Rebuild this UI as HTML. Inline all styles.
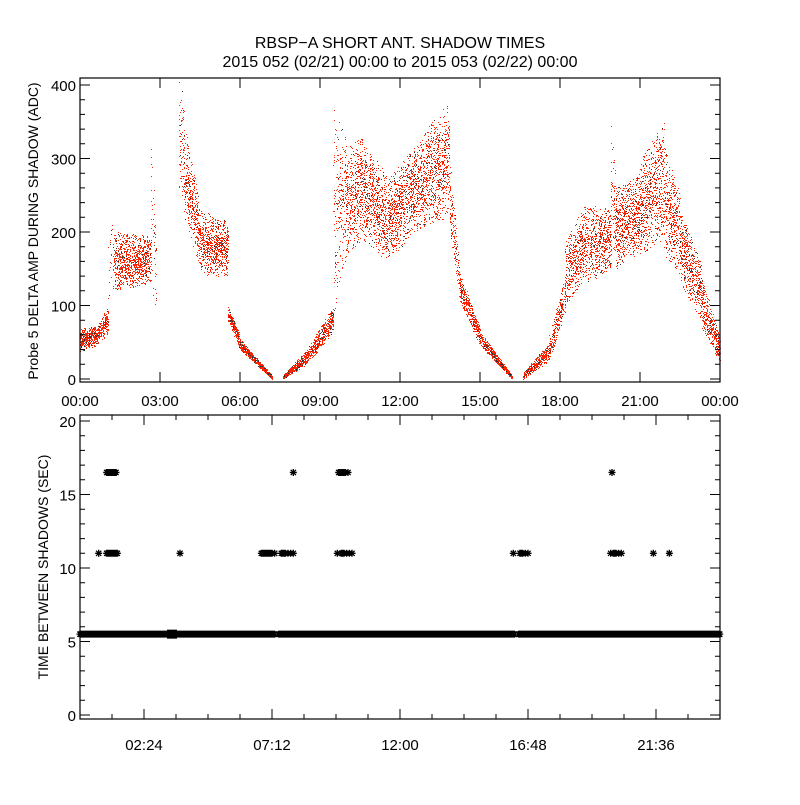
<!DOCTYPE html>
<html><head><meta charset="utf-8">
<style>
body{margin:0;background:#fff;width:800px;height:800px;overflow:hidden}
svg text{font-family:"Liberation Sans",sans-serif;fill:#000}
</style></head><body>
<svg id="c" width="800" height="800" viewBox="0 0 800 800">
<rect x="0" y="0" width="800" height="800" fill="#fff"/>
<text x="400" y="48" text-anchor="middle" font-size="16">RBSP−A SHORT ANT. SHADOW TIMES</text>
<text x="400" y="67" text-anchor="middle" font-size="16">2015 052 (02/21) 00:00 to 2015 053 (02/22) 00:00</text>
<text transform="translate(38,231) rotate(-90)" text-anchor="middle" font-size="14">Probe 5 DELTA AMP DURING SHADOW (ADC)</text>
<text transform="translate(48,567) rotate(-90)" text-anchor="middle" font-size="14">TIME BETWEEN SHADOWS (SEC)</text>
<g id="topPanel"></g>
<g id="botPanel"></g>
</svg>
<script>
// ---- top panel data: envelope segments (hours, ADC) ----
const segStart=[0,0.6,1.05,1.3,2.65,3.7,3.9,4.5,5.55,6.0,7.6,8.5,9.5,10.0,10.6,11.5,12.2,13.0,13.85,14.2,15.0,16.6,17.6,18.2,19.0,19.9,20.1,21.0,21.9,22.5,23.3];
const segEnd  =[0.6,1.05,1.3,2.65,2.85,3.9,4.5,5.55,6.0,7.2,8.5,9.5,10.0,10.6,11.5,12.2,13.0,13.85,14.2,15.0,16.2,17.6,18.2,19.0,19.9,20.1,21.0,21.9,22.5,23.3,24.0];
const segLoA  =[38,45,100,120,95,250,220,140,80,40,0,20,80,170,190,165,190,210,200,110,45,0,25,100,130,150,150,170,170,130,70];
const segLoB  =[45,62,120,130,100,240,150,140,40,0,20,65,170,190,160,180,210,220,120,45,0,25,90,140,150,150,170,190,140,80,20];
const segHiA  =[68,72,230,200,390,410,350,230,100,55,5,40,370,320,320,270,300,350,300,150,65,8,60,190,240,380,260,300,320,230,140];
const segHiB  =[72,98,200,195,200,390,240,215,60,5,40,100,330,330,280,300,340,375,170,70,5,50,140,240,230,260,280,350,250,160,60];
const segDens =[600,500,150,650,250,400,650,650,500,450,450,450,500,700,700,700,700,700,400,450,450,350,400,600,600,450,700,700,650,600,500];
const topYTicks=[0,100,200,300,400];
const topXLabels=["00:00","03:00","06:00","09:00","12:00","15:00","18:00","21:00","00:00"];
// ---- bottom panel data ----
const baseValue=5.5;
const baseStart=[0,7.45,16.45];
const baseEnd=[7.3,16.3,24];
const mid11Times=[0.7,1.0,1.05,1.1,1.15,1.2,1.25,1.3,1.35,1.4,3.75,6.8,6.85,6.9,6.95,7.0,7.05,7.1,7.15,7.2,7.3,7.55,7.6,7.65,7.7,7.8,7.9,8.0,9.65,9.8,9.85,9.9,10.0,10.1,10.2,16.25,16.5,16.55,16.6,16.7,16.8,19.9,20.0,20.05,20.1,20.2,20.3,21.5,22.1];
const high16Times=[1.0,1.05,1.1,1.15,1.2,1.25,1.3,1.35,8.0,9.7,9.75,9.8,9.85,9.9,9.95,10.05,19.95];
const botYTicks=[0,5,10,15,20];
const botXLabels=["02:24","07:12","12:00","16:48","21:36"];
const botXLabelHours=[2.4,7.2,12,16.8,21.6];

const NS="http://www.w3.org/2000/svg";
function mk(tag,attrs,parent){const e=document.createElementNS(NS,tag);for(const k in attrs)e.setAttribute(k,attrs[k]);parent.appendChild(e);return e;}
const L=80,R=720;
const xH=h=>L+(R-L)*h/24;
const T0=78,T1=382; const yT=v=>379-v*0.735;
const B0=415,B1=719; const yB=v=>715-v*14.7;
let seedState=12345;
function rnd(){seedState|=0;seedState=seedState+0x6D2B79F5|0;let t=Math.imul(seedState^seedState>>>15,1|seedState);t=t+Math.imul(t^t>>>7,61|t)^t;return((t^t>>>14)>>>0)/4294967296;}

const gTop=document.getElementById('topPanel');
let red="",blk="";
for(let s=0;s<segStart.length;s++){
  const n=Math.round((segEnd[s]-segStart[s])*segDens[s]);
  for(let i=0;i<n;i++){
    const f=rnd();const h=segStart[s]+f*(segEnd[s]-segStart[s]);
    const lo=segLoA[s]+(segLoB[s]-segLoA[s])*f, hi=segHiA[s]+(segHiB[s]-segHiA[s])*f;
    const u=(rnd()+rnd())/2; const w=rnd()<0.6?u:rnd();
    const v=lo+(hi-lo)*w;
    const px=Math.round(xH(h)),py=Math.round(yT(v));
    const seg="M"+px+" "+py+"h1v1h-1z";
    if(rnd()<0.09)blk+=seg;else red+=seg;
  }
}
const pr=mk('path',{d:red,fill:'#ff2200'},gTop);


const pb=mk('path',{d:blk,fill:'#333'},gTop);


const tf=mk('rect',{x:L,y:T0,width:R-L,height:T1-T0,fill:'none',stroke:'#000','stroke-width':1.2},gTop);


let tk="";
for(let v=0;v<=400;v+=20){const y=yT(v);const len=(v%100===0)?10:5;tk+=`M${L} ${y}h${len}M${R} ${y}h${-len}`;}
for(let i=0;i<=8;i++){const x=xH(i*3);tk+=`M${x} ${T1}v-10M${x} ${T0}v10`;}
const tt=mk('path',{d:tk,stroke:'#000','stroke-width':1,fill:'none'},gTop);


topYTicks.forEach(v=>{const t=mk('text',{x:L-4,y:yT(v)+6,'text-anchor':'end','font-size':15},gTop);t.textContent=v;

});
topXLabels.forEach((s,i)=>{const t=mk('text',{x:xH(i*3),y:406,'text-anchor':'middle','font-size':15},gTop);t.textContent=s;

});

const gBot=document.getElementById('botPanel');
let ast="";
function star(h,v){const x=xH(h),y=yB(v),r=3.5;ast+=`M${x-r} ${y}h${2*r}M${x} ${y-r}v${2*r}M${x-r*0.75} ${y-r*0.75}l${1.5*r} ${1.5*r}M${x-r*0.75} ${y+r*0.75}l${1.5*r} ${-1.5*r}`;}
for(let k=0;k<baseStart.length;k++){for(let h=baseStart[k];h<=baseEnd[k]+1e-9;h+=0.02)star(h,baseValue);}
mid11Times.forEach(h=>star(h,11));
high16Times.forEach(h=>star(h,16.5));
const ap=mk('path',{d:ast,stroke:'#000','stroke-width':1.3,fill:'none'},gBot);


const bump=mk('rect',{x:xH(3.3)-1,y:yB(baseValue)-4.5,width:xH(3.6)-xH(3.3)+2,height:9,fill:'#000'},gBot);


const bf=mk('rect',{x:L,y:B0,width:R-L,height:B1-B0,fill:'none',stroke:'#000','stroke-width':1.2},gBot);


let bt="";
for(let v=0;v<=20;v++){const y=yB(v);const len=(v%5===0)?10:5;bt+=`M${L} ${y}h${len}M${R} ${y}h${-len}`;}
for(let i=0;i<=20;i++){const x=xH(i*1.2);const len=(i%4===2)?10:5;bt+=`M${x} ${B1}v${-len}M${x} ${B0}v${len}`;}
const btp=mk('path',{d:bt,stroke:'#000','stroke-width':1,fill:'none'},gBot);


botYTicks.forEach(v=>{const t=mk('text',{x:L-4,y:yB(v)+6,'text-anchor':'end','font-size':15},gBot);t.textContent=v;

});
botXLabels.forEach((s,i)=>{const t=mk('text',{x:xH(botXLabelHours[i]),y:750,'text-anchor':'middle','font-size':15},gBot);t.textContent=s;

});
</script>
</body></html>
